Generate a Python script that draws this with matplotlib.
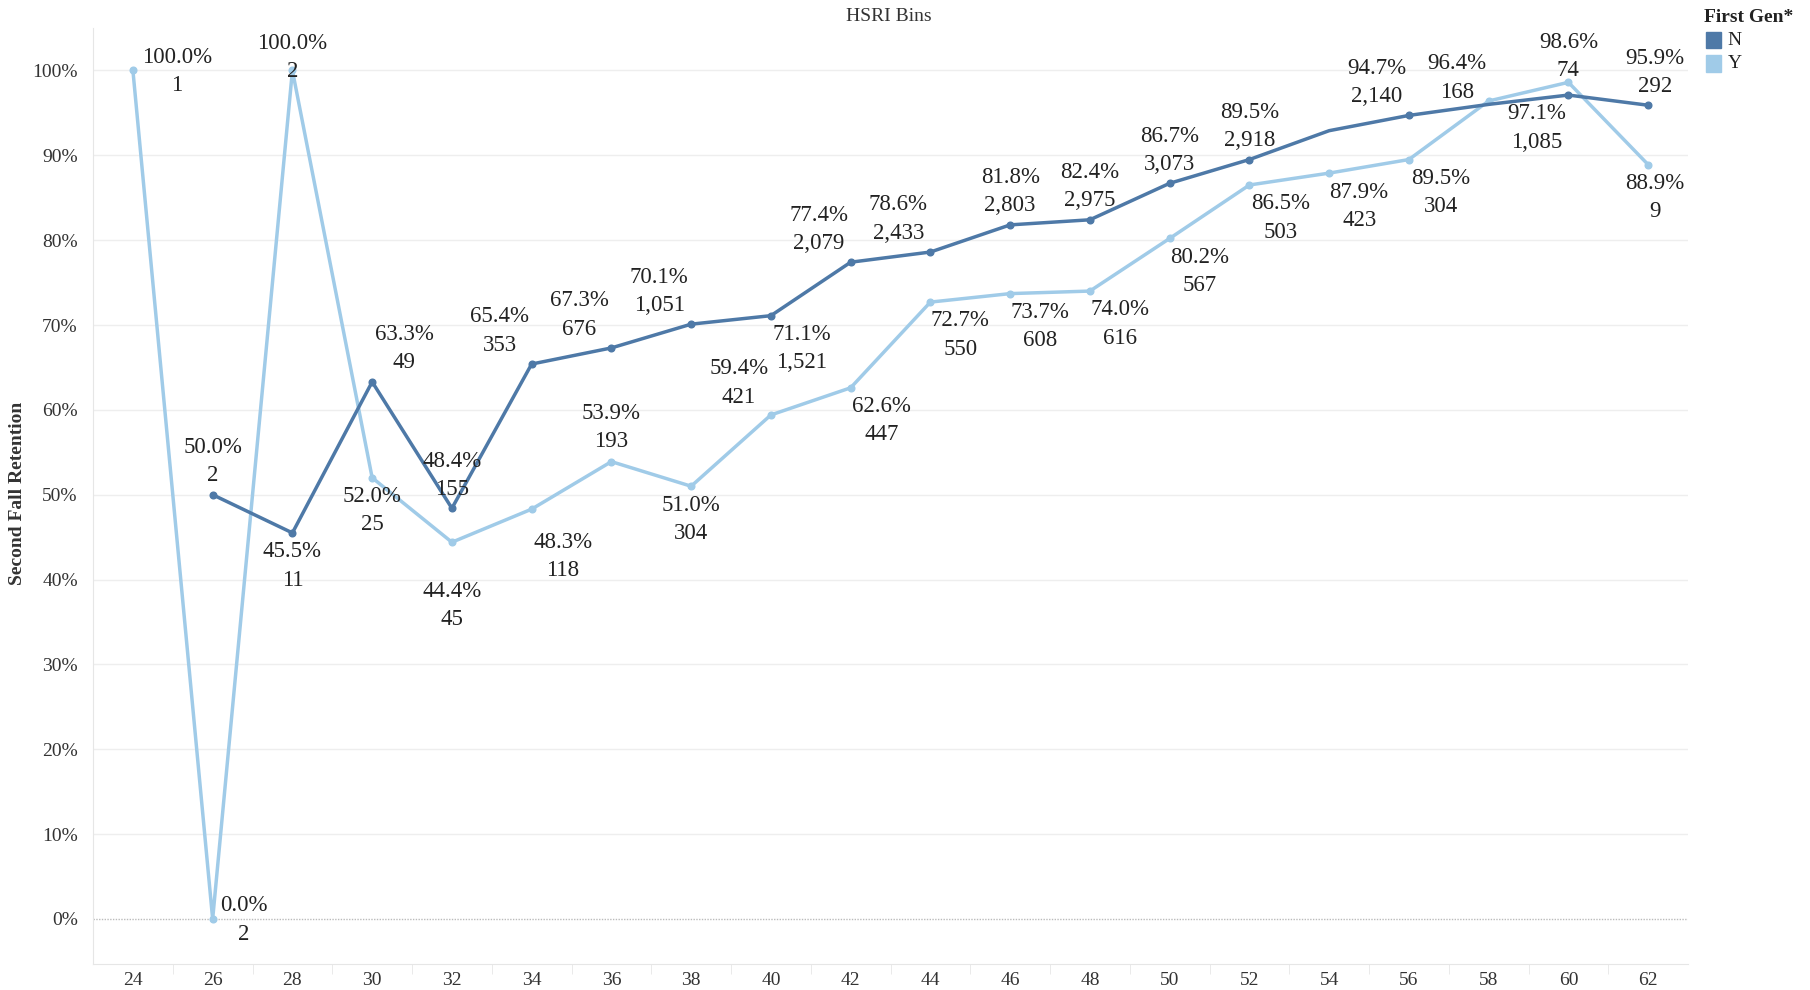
import matplotlib.pyplot as plt
import numpy as np

plt.rcParams['font.family'] = ['Liberation Serif', 'DejaVu Serif']

bins = [24, 26, 28, 30, 32, 34, 36, 38, 40, 42, 44, 46, 48, 50, 52, 54, 56, 58, 60, 62]

# retention (%) and head counts for each First Gen group
n_pct = [np.nan, 50.0, 45.5, 63.3, 48.4, 65.4, 67.3, 70.1, 71.1, 77.4, 78.6, 81.8, 82.4, 86.7, 89.5, 92.9, 94.7, 96.0, 97.1, 95.9]
n_cnt = ["", "2", "11", "49", "155", "353", "676", "1,051", "1,521", "2,079", "2,433", "2,803", "2,975", "3,073", "2,918", "", "2,140", "", "1,085", "292"]
y_pct = [100.0, 0.0, 100.0, 52.0, 44.4, 48.3, 53.9, 51.0, 59.4, 62.6, 72.7, 73.7, 74.0, 80.2, 86.5, 87.9, 89.5, 96.4, 98.6, 88.9]
y_cnt = ["1", "2", "2", "25", "45", "118", "193", "304", "421", "447", "550", "608", "616", "567", "503", "423", "304", "168", "74", "9"]

# label offsets in pixels (dx, dy) from the point, None = no label
U = 33
D = -33
n_off = [None, (0, U), (0, D), (32, U), (0, U), (-32, U), (-32, U), (-32, U), (31, D), (-32, U),
         (-32, U), (0, U), (0, U), (0, U), (0, U), None, (-32, U), None, (-32, D), (7, U)]
y_off = [(44, -1), (31, -1), (0, 13), (0, D), (0, -63), (31, -47), (0, 34), (0, D), (-32, 32), (31, D),
         (30, D), (30, D), (30, D), (30, D), (31, D), (30, D), (32, D), (-32, 23), (0, 26), (7, D)]

c_n = "#4e79a7"
c_y = "#a0cbe8"

fig = plt.figure(figsize=(18.1, 9.9), dpi=100)
ax = fig.add_axes([0.0514, 0.0263, 0.8812, 0.9454])

x = np.arange(len(bins))

ax.plot(x, y_pct, color=c_y, lw=2.5, zorder=3)
ax.plot(x, n_pct, color=c_n, lw=2.5, zorder=4)
nm = [i for i in range(len(bins)) if n_off[i] is not None]
ax.plot(x, y_pct, "o", color=c_y, ms=4.8, zorder=3)
ax.plot(x[nm], np.array(n_pct)[nm], "o", color=c_n, ms=4.8, zorder=4)

for series, counts, offs in [(n_pct, n_cnt, n_off), (y_pct, y_cnt, y_off)]:
    for i in range(len(bins)):
        if offs[i] is None:
            continue
        ax.annotate(f"{series[i]:.1f}%\n{counts[i]}", (x[i], series[i]),
                    xytext=offs[i], textcoords="offset pixels",
                    ha="center", va="center", fontsize=16.5, color="#222222",
                    linespacing=1.45, zorder=6, annotation_clip=False)

ax.set_xlim(-0.5, len(bins) - 0.5)
ax.set_ylim(-5.3, 105)
ax.set_yticks(np.arange(0, 101, 10))
ax.set_yticklabels([f"{v}%" for v in range(0, 101, 10)])
ax.set_xticks(x)
ax.set_xticklabels([str(b) for b in bins])
ax.set_xticks(x[:-1] + 0.5, minor=True)
ax.tick_params(axis="x", which="major", length=0, pad=6, labelsize=14, colors="#333333")
ax.tick_params(axis="x", which="minor", length=7, color="#e6e6e6", direction="out")
ax.tick_params(axis="y", length=0, pad=11, labelsize=14, colors="#333333")

for v in range(10, 101, 10):
    ax.axhline(v, color="#eeeeee", lw=1, zorder=1)
ax.axhline(0, color="#bbbbbb", lw=1, ls=(0, (1, 1)), zorder=1)

for s in ["top", "right"]:
    ax.spines[s].set_visible(False)
ax.spines["left"].set_color("#e6e6e6")
ax.spines["bottom"].set_color("#e6e6e6")

fig.text(0.0094, 0.502, "Second Fall Retention", rotation=90, ha="center", va="center",
         fontsize=14, fontweight="bold", color="#333333")
fig.text(0.491, 0.983, "HSRI Bins", ha="center", va="center", fontsize=14, color="#333333")

# legend
fig.text(0.9415, 0.982, "First Gen*", ha="left", va="center", fontsize=14, fontweight="bold", color="#222222")
for lab, col, yy in [("N", c_n, 0.9595), ("Y", c_y, 0.9355)]:
    fig.patches.append(plt.Rectangle((0.9425, yy - 0.008), 0.0085, 0.0165, color=col,
                                     transform=fig.transFigure, figure=fig))
    fig.text(0.9545, yy, lab, ha="left", va="center", fontsize=14, color="#222222")

fig.savefig("out.png", dpi=100)
